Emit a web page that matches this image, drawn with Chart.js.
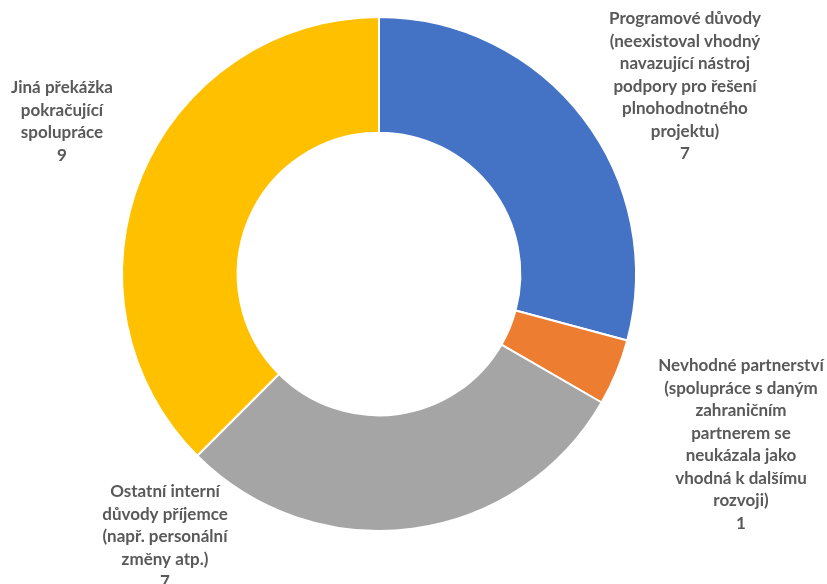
<!DOCTYPE html>
<html>
<head>
<meta charset="utf-8">
<script src="https://cdn.jsdelivr.net/npm/chart.js@4"></script>
<style>
  html, body { margin: 0; padding: 0; background: #fff; }
  #wrap { width: 827px; height: 584px; }
</style>
</head>
<body>
<div id="wrap"><canvas id="chart" width="827" height="584"></canvas></div>
<script>
// Categories (each label split into lines as in the original)
const categories = [
    ['Programové důvody', '(neexistoval vhodný', 'navazující nástroj', 'podpory pro řešení', 'plnohodnotného', 'projektu)'],
    ['Nevhodné partnerství', '(spolupráce s daným', 'zahraničním', 'partnerem se', 'neukázala jako', 'vhodná k dalšímu', 'rozvoji)'],
    ['Ostatní interní', 'důvody příjemce', '(např. personální', 'změny atp.)'],
    ['Jiná překážka', 'pokračující', 'spolupráce']
];
const counts = [7, 1, 7, 9];
const colors = ['#4472C4', '#ED7D31', '#A5A5A5', '#FFC000'];

// Where each label block is centred (top of first line), in canvas pixels
const labelAnchors = [
    { x: 685, y: 18 },
    { x: 741, y: 365 },
    { x: 165, y: 491 },
    { x: 62, y: 87 }
];

// Draw data labels (category name + value) outside the ring
const outsideLabels = {
    id: 'outsideLabels',
    afterDatasetsDraw(chart) {
        const ctx = chart.ctx;
        ctx.save();
        ctx.font = 'bold 17px Lato, "Open Sans", sans-serif';
        ctx.fillStyle = '#595959';
        ctx.textAlign = 'center';
        ctx.textBaseline = 'middle';
        const lineHeight = 22.5;
        chart.data.labels.forEach((lines, i) => {
            const a = labelAnchors[i];
            const all = lines.concat([String(chart.data.datasets[0].data[i])]);
            all.forEach((t, j) => ctx.fillText(t, a.x, a.y + j * lineHeight + 1));
        });
        ctx.restore();
    }
};

new Chart(document.getElementById('chart'), {
    type: 'doughnut',
    data: {
        labels: categories,
        datasets: [{
            data: counts,
            backgroundColor: colors,
            borderColor: '#ffffff',
            borderWidth: 2
        }]
    },
    options: {
        responsive: false,
        animation: false,
        cutout: '55%',
        layout: { padding: { left: 121, right: 190, top: 16, bottom: 52 } },
        plugins: {
            legend: { display: false },
            tooltip: { enabled: false }
        }
    },
    plugins: [outsideLabels]
});
</script>
</body>
</html>
